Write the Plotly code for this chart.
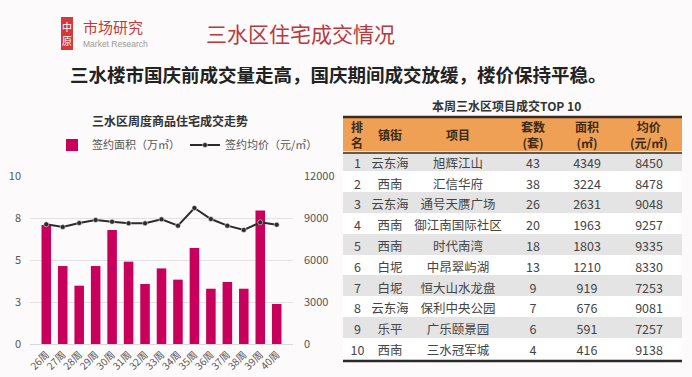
import plotly.graph_objects as go

weeks = ["26周","27周","28周","29周","30周","31周","32周","33周","34周","35周","36周","37周","38周","39周","40周"]
area = [7.08, 4.64, 3.47, 4.64, 6.79, 4.90, 3.57, 4.50, 3.83, 5.71, 3.29, 3.69, 3.29, 7.94, 2.38]
price = [8550, 8357, 8643, 8857, 8738, 8619, 8619, 8905, 8452, 9714, 8929, 8452, 8143, 8690, 8524]
left_ticks = [0, 2.5, 5, 7.5, 10]
left_labels = ["0", "3", "5", "8", "10"]
right_ticks = [0, 3000, 6000, 9000, 12000]
right_labels = ["0", "3000", "6000", "9000", "12000"]

rank = ["1","2","3","4","5","6","7","8","9","10"]
town = ["云东海","西南","云东海","西南","西南","白坭","白坭","云东海","乐平","西南"]
project = ["旭辉江山","汇信华府","通号天赝广场","御江南国际社区","时代南湾","中昂翠屿湖","恒大山水龙盘","保利中央公园","广乐颐景园","三水冠军城"]
units = [43, 38, 26, 20, 18, 13, 9, 7, 6, 4]
sqm = [4349, 3224, 2631, 1963, 1803, 1210, 919, 676, 591, 416]
avg_price = [8450, 8478, 9048, 9257, 9335, 8330, 7253, 9081, 7257, 9138]
headers = ["<b>排<br>名</b>", "<b>镇街</b>", "<b>项目</b>", "<b>套数<br>(套)</b>", "<b>面积<br>(㎡)</b>", "<b>均价<br>(元/㎡)</b>"]

W, H = 692, 377
FONT = "Noto Sans CJK SC"
TBL_L, TBL_R = 343, 682
col_w = [29, 36, 100, 50, 58, 66]

def py(px):
    return 1 - px / H

def pxx(px):
    return px / W

fig = go.Figure()
fig.add_trace(go.Bar(x=weeks, y=area, name="签约面积（万㎡）", marker_color="#c8005c",
                     yaxis="y", width=0.58))
fig.add_trace(go.Scatter(x=weeks, y=price, name="签约均价（元/㎡）", yaxis="y2",
                         mode="lines+markers", line=dict(color="#2b2b2b", width=2),
                         marker=dict(size=5, color="#2b2b2b", line=dict(color="#ffffff", width=0.5))))

row_fill = ["#e4e4e4" if i % 2 == 0 else "#ffffff" for i in range(len(rank))]
fig.add_trace(go.Table(
    domain=dict(x=[pxx(TBL_L), pxx(TBL_R)], y=[0, py(134.5)]),
    columnwidth=col_w,
    header=dict(values=[], height=36, fill_color="rgba(0,0,0,0)",
                line=dict(color="rgba(0,0,0,0)", width=0)),
    cells=dict(values=[rank, town, project, units, sqm, avg_price],
               fill_color=[row_fill] * 6, align="center",
               font=dict(family=FONT, size=12.5, color="#444444"), height=20.8,
               line=dict(color="rgba(0,0,0,0)", width=0)),
))

fig.update_layout(
    template="none",
    width=W, height=H,
    margin=dict(l=0, r=0, t=0, b=0, pad=0, autoexpand=False),
    paper_bgcolor="#fcfafa", plot_bgcolor="rgba(0,0,0,0)",
    font=dict(family=FONT, color="#555555"),
    showlegend=True,
    legend=dict(orientation="h", x=pxx(52), y=py(145), yanchor="middle", xanchor="left",
                font=dict(size=11, color="#555555"), bgcolor="rgba(0,0,0,0)",
                itemwidth=30, tracegroupgap=0),
    xaxis=dict(domain=[pxx(30), pxx(293)], tickangle=-45, tickfont=dict(size=10, color="#555555"),
               showgrid=False, showline=True, linecolor="#d8d8d8", ticks="", automargin=False),
    yaxis=dict(domain=[py(344), py(176)], range=[0, 10], tickvals=left_ticks, ticktext=left_labels,
               showgrid=True, gridcolor="#e2e2e2", zeroline=False, tickfont=dict(size=11, color="#555555"),
               ticks="", ticklabelstandoff=8, automargin=False, showline=False),
    yaxis2=dict(overlaying="y", side="right", range=[0, 12000], tickvals=right_ticks, ticktext=right_labels,
                showgrid=False, zeroline=False, tickfont=dict(size=11, color="#555555"),
                ticks="", ticklabelstandoff=10, automargin=False, showline=False),
    bargap=0.4,
)

# Table header band and border lines
fig.add_shape(type="rect", xref="paper", yref="paper", x0=pxx(TBL_L), x1=pxx(TBL_R), y0=py(153), y1=py(117),
              fillcolor="#f0a055", line=dict(width=0), layer="below")
fig.add_shape(type="line", xref="paper", yref="paper", x0=pxx(TBL_L), x1=pxx(TBL_R), y0=py(117), y1=py(117),
              line=dict(color="#3a2a20", width=2.5))
fig.add_shape(type="line", xref="paper", yref="paper", x0=pxx(TBL_L), x1=pxx(TBL_R), y0=py(153), y1=py(153),
              line=dict(color="#3a2a20", width=1.5))
fig.add_shape(type="line", xref="paper", yref="paper", x0=pxx(TBL_L), x1=pxx(TBL_R), y0=py(361), y1=py(361),
              line=dict(color="#2a2a2a", width=2.5))

# header labels
scale = (TBL_R - TBL_L) / sum(col_w)
xc = TBL_L
for h, w in zip(headers, col_w):
    fig.add_annotation(x=pxx(xc + w * scale / 2), y=py(135), xref="paper", yref="paper",
                       text=h, showarrow=False, xanchor="center", yanchor="middle",
                       font=dict(family=FONT, size=12, color="#3a2a1a"))
    xc += w * scale

# Logo
fig.add_shape(type="rect", xref="paper", yref="paper", x0=pxx(61), x1=pxx(73), y0=py(50), y1=py(17),
              fillcolor="#d6383a", line=dict(width=0))
ann = [
    dict(x=pxx(67), y=py(26), text="中", font=dict(size=10, color="#ffffff")),
    dict(x=pxx(67), y=py(41), text="原", font=dict(size=10, color="#ffffff")),
    dict(x=pxx(81), y=py(27), text="市场研究", xanchor="left", font=dict(size=15, color="#c83a3a")),
    dict(x=pxx(81), y=py(44), text="Market Research", xanchor="left", font=dict(size=8.5, color="#999999", family="Liberation Sans")),
    dict(x=pxx(300), y=py(33), text="三水区住宅成交情况", font=dict(size=21, color="#b8393d")),
    dict(x=pxx(338), y=py(74), text="<b>三水楼市国庆前成交量走高，国庆期间成交放缓，楼价保持平稳。</b>", font=dict(size=18.5, color="#222222")),
    dict(x=pxx(170), y=py(121), text="<b>三水区周度商品住宅成交走势</b>", font=dict(size=12, color="#333333")),
    dict(x=pxx(507), y=py(105), text="<b>本周三水区项目成交TOP 10</b>", font=dict(size=12, color="#333333")),
]
for a in ann:
    a.setdefault("xanchor", "center")
    a.update(xref="paper", yref="paper", yanchor="middle", showarrow=False)
    a["font"].setdefault("family", FONT)
    fig.add_annotation(**a)

fig.write_html("out.html", config={"displayModeBar": False},
               post_script="document.body.style.margin='0';document.body.style.overflow='hidden';")
